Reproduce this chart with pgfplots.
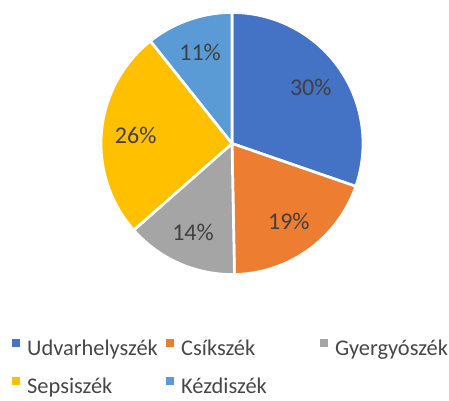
\documentclass[border=0pt]{standalone}
\usepackage{fontspec}
\setmainfont{Carlito}
\usepackage{pgfplots}
\pgfplotsset{compat=1.18}
\definecolor{cudv}{HTML}{4472C4}
\definecolor{ccsik}{HTML}{ED7D31}
\definecolor{cgyer}{HTML}{A5A5A5}
\definecolor{csepsi}{HTML}{FFC000}
\definecolor{ckezdi}{HTML}{5B9BD5}
\definecolor{labeltext}{HTML}{404040}
\definecolor{legendtext}{HTML}{474747}

% shares in percent, clockwise from 12 o'clock
\def\vA{30.3}% Udvarhelyszek
\def\vB{19.4}% Csikszek
\def\vC{13.8}% Gyergyoszek
\def\vD{25.8}% Sepsiszek
\def\vE{10.7}% Kezdiszek

\tikzset{
 wedge/.style={fill=#1,draw=white,line width=2.7bp},
 lbl/.style={font=\fontsize{24bp}{28bp}\selectfont,text=labeltext}}

\begin{document}
\begin{tikzpicture}
\pgfmathsetmacro\aA{90}
\pgfmathsetmacro\aB{\aA-3.6*\vA}
\pgfmathsetmacro\aC{\aB-3.6*\vB}
\pgfmathsetmacro\aD{\aC-3.6*\vC}
\pgfmathsetmacro\aE{\aD-3.6*\vD}
\pgfmathsetmacro\aF{\aE-3.6*\vE}
\begin{axis}[
 at={(232bp,257.5bp)},anchor=center,
 scale only axis,width=262bp,height=262bp,
 xmin=-1,xmax=1,ymin=-1,ymax=1,
 hide axis,clip=false,samples=90,
 legend image code/.code={\fill[#1,draw=none] (0bp,2.5bp) rectangle (8bp,10.5bp);},
 legend columns=3,legend cell align=left,
 legend style={at={(axis description cs:-0.3397,-0.2440)},anchor=north west,
  draw=none,fill=none,inner sep=0pt,row sep=19bp,
  font=\fontsize{22.4bp}{26bp}\selectfont,text=legendtext,
  nodes={inner sep=0pt,text height=15bp,text depth=3bp},
  /tikz/every odd column/.style={column sep=7bp},
  /tikz/every even column/.style={column sep=0pt}}]
\addplot[wedge=cudv,domain=\aB:\aA] ({cos(x)},{sin(x)}) -- (0,0) -- cycle;
\addplot[wedge=ccsik,domain=\aC:\aB] ({cos(x)},{sin(x)}) -- (0,0) -- cycle;
\addplot[wedge=cgyer,domain=\aD:\aC] ({cos(x)},{sin(x)}) -- (0,0) -- cycle;
\addplot[wedge=csepsi,domain=\aE:\aD] ({cos(x)},{sin(x)}) -- (0,0) -- cycle;
\addplot[wedge=ckezdi,domain=\aF:\aE] ({cos(x)},{sin(x)}) -- (0,0) -- cycle;
\node[lbl] at (axis cs:{0.738*cos((\aA+\aB)/2)},{0.738*sin((\aA+\aB)/2)}) {30\%};
\node[lbl] at (axis cs:{0.738*cos((\aB+\aC)/2)},{0.738*sin((\aB+\aC)/2)}) {19\%};
\node[lbl] at (axis cs:{0.738*cos((\aC+\aD)/2)},{0.738*sin((\aC+\aD)/2)}) {14\%};
\node[lbl] at (axis cs:{0.738*cos((\aD+\aE)/2)},{0.738*sin((\aD+\aE)/2)}) {26\%};
\node[lbl] at (axis cs:{0.738*cos((\aE+\aF)/2)},{0.738*sin((\aE+\aF)/2)}) {11\%};
\legend{\makebox[139bp][l]{Udvarhelyszék},\makebox[139bp][l]{Csíkszék},Gyergyószék,\makebox[139bp][l]{Sepsiszék},\makebox[139bp][l]{Kézdiszék}}
\end{axis}
\pgfresetboundingbox
\path[use as bounding box] (0,0) rectangle (449bp,401bp);
\end{tikzpicture}
\end{document}
